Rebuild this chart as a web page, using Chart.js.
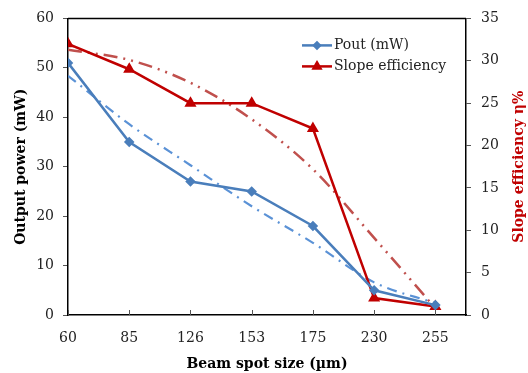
<!DOCTYPE html>
<html>
<head>
<meta charset="utf-8">
<script src="https://cdn.jsdelivr.net/npm/chart.js@4.4.0/dist/chart.umd.min.js"></script>
<style>
  html, body { margin: 0; padding: 0; background: #fff; }
  #wrap { width: 528px; height: 373px; position: relative; }
</style>
</head>
<body>
<div id="wrap"><canvas id="chart"></canvas></div>
<script>
const beamSizes = ['60', '85', '126', '153', '175', '230', '255'];
const poutValues = [51, 35, 27, 25, 18, 5, 2];
const slopeValues = [32, 29, 25, 25, 22, 2, 1];
const poutTrend = [48.4, 38.6, 30.3, 22, 14.6, 6.6, 2.4];
const slopeTrend = [31.3, 30.1, 27.4, 23.1, 17.2, 9.1, 0.8];
const powerTicks = [0, 10, 20, 30, 40, 50, 60];
const slopeTicks = [0, 5, 10, 15, 20, 25, 30, 35];

const FONT = "'DejaVu Serif', serif";
const BLUE = '#4a7ebb';
const RED = '#c00000';

const toPoints = arr => arr.map((v, i) => ({ x: i, y: v }));

// frame, inward x ticks, right title (reads upward) and legend inside the plot
const framePlugin = {
    id: 'frame',
    afterDraw(chart) {
        const ctx = chart.ctx;
        const a = chart.chartArea;
        const xs = chart.scales.x;
        ctx.save();
        ctx.strokeStyle = '#000';
        ctx.lineWidth = 1.5;
        ctx.beginPath();
        ctx.moveTo(a.left, a.top);
        ctx.lineTo(a.right, a.top);
        ctx.stroke();
        ctx.lineWidth = 1;
        ctx.strokeStyle = '#555';
        beamSizes.forEach((_, i) => {
            const x = Math.round(xs.getPixelForValue(i)) + 0.5;
            ctx.beginPath();
            ctx.moveTo(x, a.bottom);
            ctx.lineTo(x, a.bottom - 5);
            ctx.stroke();
        });

        // right axis title
        ctx.save();
        ctx.translate(chart.width - 9, (a.top + a.bottom) / 2);
        ctx.rotate(-Math.PI / 2);
        ctx.font = 'bold 14px ' + FONT;
        ctx.fillStyle = RED;
        ctx.textAlign = 'center';
        ctx.textBaseline = 'middle';
        ctx.fillText('Slope efficiency η%', 0, 0);
        ctx.restore();

        // legend
        const items = [
            { text: 'Pout (mW)', color: BLUE, style: 'rectRot', r: 3 },
            { text: 'Slope efficiency', color: RED, style: 'triangle', r: 4 }
        ];
        const lx0 = a.left + 234, lx1 = a.left + 264, ly = a.top + 27;
        items.forEach((it, k) => {
            const y = ly + k * 21;
            ctx.strokeStyle = it.color;
            ctx.lineWidth = 2.5;
            ctx.beginPath();
            ctx.moveTo(lx0, y);
            ctx.lineTo(lx1, y);
            ctx.stroke();
            ctx.fillStyle = it.color;
            Chart.helpers.drawPoint(ctx, { pointStyle: it.style, radius: it.r, borderWidth: 1 }, (lx0 + lx1) / 2, y);
            ctx.fillStyle = '#222';
            ctx.font = '14px ' + FONT;
            ctx.textBaseline = 'middle';
            ctx.textAlign = 'left';
            ctx.fillText(it.text, lx1 + 2, y);
        });
        ctx.restore();
    }
};

new Chart(document.getElementById('chart'), {
    type: 'line',
    data: {
        datasets: [
            {
                label: 'Pout (mW)',
                data: toPoints(poutValues),
                yAxisID: 'y',
                borderColor: BLUE,
                backgroundColor: BLUE,
                borderWidth: 2.5,
                pointStyle: 'rectRot',
                pointRadius: 3.5,
                tension: 0
            },
            {
                label: 'Slope efficiency',
                data: toPoints(slopeValues),
                yAxisID: 'y1',
                borderColor: RED,
                backgroundColor: RED,
                borderWidth: 2.5,
                pointStyle: 'triangle',
                pointRadius: 4.5,
                tension: 0
            },
            {
                label: 'Pout trend',
                data: toPoints(poutTrend),
                yAxisID: 'y',
                borderColor: '#5b92d6',
                borderWidth: 2.2,
                borderDash: [10, 6, 2, 6],
                pointRadius: 0,
                cubicInterpolationMode: 'monotone'
            },
            {
                label: 'Slope trend',
                data: toPoints(slopeTrend),
                yAxisID: 'y1',
                borderColor: '#c0504d',
                borderWidth: 2.5,
                borderDash: [14, 6, 2, 6, 2, 6],
                pointRadius: 0,
                cubicInterpolationMode: 'monotone'
            }
        ]
    },
    options: {
        responsive: true,
        maintainAspectRatio: false,
        animation: false,
        layout: { padding: { top: 15, left: 0, right: 0, bottom: 0 } },
        plugins: { legend: { display: false }, tooltip: { enabled: false } },
        scales: {
            x: {
                type: 'linear',
                min: 0,
                max: 6.5,
                afterBuildTicks: s => { s.ticks = beamSizes.map((_, i) => ({ value: i })); },
                afterFit: s => { s.height = 58; },
                ticks: {
                    callback: v => beamSizes[v],
                    font: { family: FONT, size: 14 },
                    color: '#222',
                    padding: 7,
                    maxRotation: 0
                },
                grid: { display: false },
                border: { color: '#000', width: 1.5 },
                title: {
                    display: true,
                    text: 'Beam spot size (µm)',
                    font: { family: FONT, size: 14, weight: 'bold' },
                    color: '#000',
                    padding: { top: 2, bottom: 0 }
                }
            },
            y: {
                position: 'left',
                min: 0,
                max: 60,
                afterBuildTicks: s => { s.ticks = powerTicks.map(v => ({ value: v })); },
                afterFit: s => { s.width = 68; },
                ticks: { font: { family: FONT, size: 14 }, color: '#222', padding: 9 },
                grid: { drawOnChartArea: false, tickLength: 5, color: '#555' },
                border: { color: '#000', width: 1.5 },
                title: {
                    display: true,
                    text: 'Output power (mW)',
                    font: { family: FONT, size: 14, weight: 'bold' },
                    color: '#000',
                    padding: { top: 13, bottom: 0 }
                }
            },
            y1: {
                position: 'right',
                min: 0,
                max: 35,
                afterBuildTicks: s => { s.ticks = slopeTicks.map(v => ({ value: v })); },
                afterFit: s => { s.width = 62; },
                ticks: { font: { family: FONT, size: 14 }, color: '#222', padding: 10 },
                grid: { drawOnChartArea: false, tickLength: 5, color: '#555' },
                border: { color: '#000', width: 1.5 }
            }
        }
    },
    plugins: [framePlugin]
});
</script>
</body>
</html>
